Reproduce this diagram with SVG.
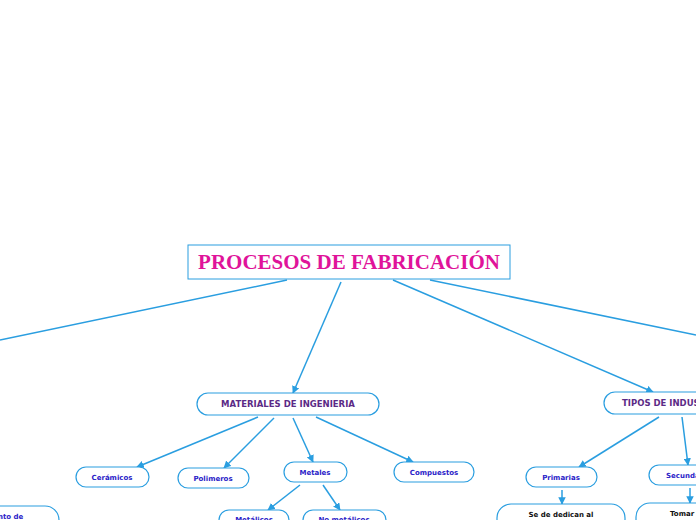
<svg xmlns="http://www.w3.org/2000/svg" width="696" height="520" viewBox="0 0 696 520">
<style>
.n{fill:#fff;stroke:#2a9ee0;stroke-width:1.2}
.t{font-family:Verdana,"DejaVu Sans",sans-serif;font-weight:bold;text-anchor:middle}
.s{font-size:7px;fill:#2a22c8}
.m{font-size:8.5px;fill:#5b2a86}
.k{font-size:7px;fill:#111}
.c line{stroke:#2a9ee0;stroke-width:1.5;marker-end:url(#a)}
</style>
<defs><marker id="a" viewBox="0 0 10 10" refX="9" refY="5" markerWidth="5" markerHeight="5" orient="auto"><path d="M0,0L10,5L0,10z" fill="#2a9ee0"/></marker></defs>
<rect width="696" height="520" fill="#fff"/>
<g class="c">
<line x1="287" y1="280" x2="0" y2="340" style="marker-end:none"/>
<line x1="341" y1="282" x2="293" y2="393"/>
<line x1="393" y1="280" x2="653" y2="392"/>
<line x1="430" y1="280" x2="696" y2="335" style="marker-end:none"/>
<line x1="258" y1="417" x2="137" y2="467"/>
<line x1="274" y1="418" x2="224" y2="468"/>
<line x1="293" y1="418" x2="313" y2="462"/>
<line x1="316" y1="417" x2="413" y2="462"/>
<line x1="300" y1="485" x2="268" y2="510"/>
<line x1="323" y1="485" x2="340" y2="510"/>
<line x1="659" y1="417" x2="579" y2="467"/>
<line x1="682" y1="417" x2="688" y2="465"/>
<line x1="562" y1="490" x2="562" y2="504"/>
<line x1="690" y1="488" x2="690" y2="503"/>
</g>
<g id="title"><rect x="188" y="245" width="322" height="34" fill="#fff" stroke="#2a9ee0" stroke-width="1"/><text x="349" y="269" text-anchor="middle" font-family="'Liberation Serif',serif" font-weight="bold" font-size="21" fill="#e0139a">PROCESOS DE FABRICACIÓN</text></g>
<g id="materiales"><rect class="n" x="197" y="393" width="182" height="22" rx="11"/><text class="t m" x="288" y="407">MATERIALES DE INGENIERIA</text></g>
<g id="tipos"><rect class="n" x="604" y="392" width="110" height="22" rx="11"/><text class="t m" x="622" y="406" style="text-anchor:start">TIPOS DE INDUSTRIAS</text></g>
<g id="ceramicos"><rect class="n" x="76" y="467" width="73" height="20" rx="10"/><text class="t s" x="112" y="480">Cerámicos</text></g>
<g id="polimeros"><rect class="n" x="178" y="468" width="71" height="20" rx="10"/><text class="t s" x="213" y="481">Polimeros</text></g>
<g id="metales"><rect class="n" x="284" y="462" width="63" height="20" rx="10"/><text class="t s" x="315" y="475">Metales</text></g>
<g id="compuestos"><rect class="n" x="394" y="462" width="80" height="20" rx="10"/><text class="t s" x="434" y="475">Compuestos</text></g>
<g id="metalicos"><rect class="n" x="219" y="510" width="70" height="20" rx="10"/><text class="t s" x="254" y="522">Metálicos</text></g>
<g id="nometalicos"><rect class="n" x="303" y="510" width="83" height="20" rx="10"/><text class="t s" x="344" y="522">No metálicos</text></g>
<g id="primarias"><rect class="n" x="526" y="467" width="71" height="20" rx="10"/><text class="t s" x="561" y="480">Primarias</text></g>
<g id="secundarias"><rect class="n" x="649" y="465" width="80" height="20" rx="10"/><text class="t s" x="666" y="478" style="text-anchor:start">Secundarias</text></g>
<g id="sededican"><rect class="n" x="497" y="504" width="128" height="40" rx="14"/><text class="t k" x="561" y="517">Se de dedican al</text></g>
<g id="tomar"><rect class="n" x="636" y="503" width="90" height="40" rx="14"/><text class="t k" x="670" y="516" style="text-anchor:start">Tomar</text></g>
<g id="left"><rect class="n" x="-60" y="506" width="119" height="40" rx="14"/><text class="t k" x="-2" y="519" style="text-anchor:start;fill:#2a22c8">nto de</text></g>
</svg>
